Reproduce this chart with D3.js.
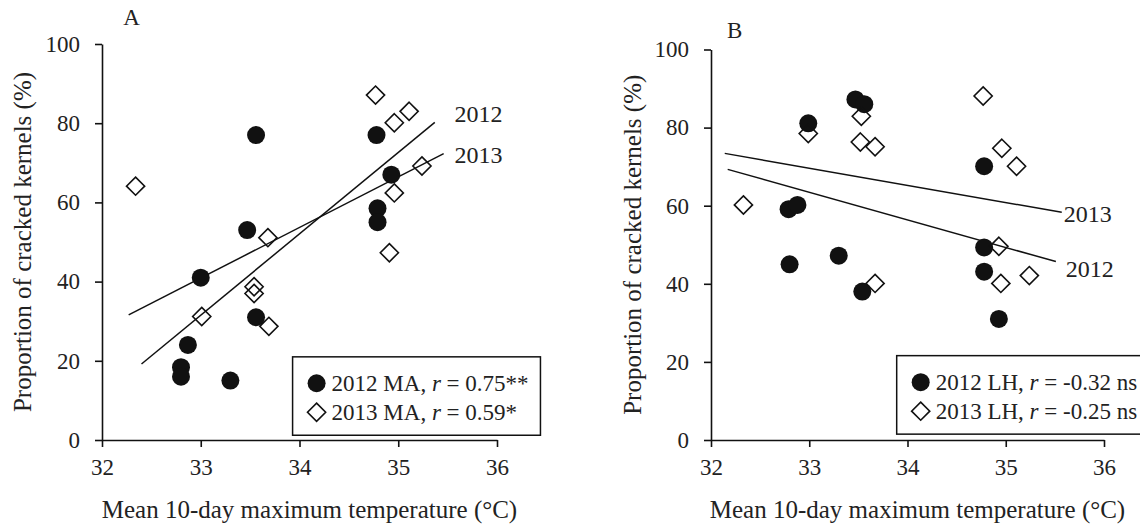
<!DOCTYPE html>
<html>
<head>
<meta charset="utf-8">
<script src="https://cdn.jsdelivr.net/npm/d3@7"></script>
<style>
  body { margin: 0; background: #fff; }
  svg text { font-family: "Liberation Serif", "Times New Roman", serif; fill: #222; }
</style>
</head>
<body>
<div id="chart"></div>
<script>
// values
const xTicks = [32, 33, 34, 35, 36]
const yTicks = [0, 20, 40, 60, 80, 100]

// panel A (MA)
const tempA2012 = [33.56, 34.78, 34.93, 34.79, 34.79, 33.47, 33.00, 33.56, 32.87, 32.80, 32.80, 33.30]
const crackA2012 = [77, 77, 67, 58.5, 55, 53, 41, 31, 24, 18.4, 16, 15]
const tempA2013 = [32.34, 34.77, 35.11, 34.96, 35.24, 34.96, 33.68, 34.91, 33.54, 33.54, 33.01, 33.69]
const crackA2013 = [64.1, 87.1, 83.0, 80.1, 69.2, 62.4, 51.1, 47.3, 38.7, 37.0, 31.2, 28.7]
const fitA2012 = [[32.40, 19.2], [35.37, 80.2]]
const fitA2013 = [[32.27, 31.6], [35.46, 72.3]]

// panel B (LH)
const tempB2012 = [33.47, 33.56, 32.99, 34.78, 32.79, 32.88, 34.78, 33.30, 32.80, 33.54, 34.78, 34.93]
const crackB2012 = [87.2, 86.0, 81.1, 70.1, 59.1, 60.2, 49.3, 47.2, 45, 38, 43.1, 31.0]
const tempB2013 = [32.33, 32.99, 33.53, 33.52, 33.67, 34.77, 34.96, 35.11, 34.93, 33.67, 34.95, 35.24]
const crackB2013 = [60.2, 78.5, 82.9, 76.3, 75.1, 88.1, 74.7, 70.1, 49.6, 40.1, 40.1, 42.1]
const fitB2012 = [[32.17, 69.3], [35.51, 45.7]]
const fitB2013 = [[32.14, 73.4], [35.57, 58.3]]

const xTitle = "Mean 10-day maximum temperature (\u00B0C)"
const yTitle = "Proportion of cracked kernels (%)"

const width = 1140, height = 524

const svg = d3.select("#chart").append("svg")
    .attr("width", width)
    .attr("height", height)
    .attr("viewBox", [0, 0, width, height])

const diamond = d3.symbol().type(d3.symbolDiamond2).size(210)

function drawPanel(p) {
    const x = d3.scaleLinear().domain([32, 36]).range([p.left, p.right])
    const y = d3.scaleLinear().domain([0, 100]).range([p.bottom, p.top])
    const g = svg.append("g")

    // axes
    g.append("g")
        .attr("transform", `translate(0,${p.bottom})`)
        .call(d3.axisBottom(x).tickValues(xTicks).tickFormat(d3.format("d"))
            .tickSize(7).tickSizeOuter(0).tickPadding(12))
    g.append("g")
        .attr("transform", `translate(${p.left},0)`)
        .call(d3.axisLeft(y).tickValues(yTicks).tickFormat(d3.format("d"))
            .tickSize(7).tickSizeOuter(0).tickPadding(15))
    g.selectAll(".tick text").attr("font-size", 23).attr("fill", "#222")
        .attr("font-family", "Liberation Serif, serif")
    g.selectAll(".domain, .tick line").attr("stroke", "#111").attr("stroke-width", 1.6)

    // fit lines
    const line = d3.line().x(d => x(d[0])).y(d => y(d[1]))
    g.append("path").attr("d", line(p.fit12)).attr("fill", "none").attr("stroke", "#111").attr("stroke-width", 1.5)
    g.append("path").attr("d", line(p.fit13)).attr("fill", "none").attr("stroke", "#111").attr("stroke-width", 1.5)

    // points
    g.selectAll(".c12").data(d3.zip(p.t12, p.v12)).join("circle")
        .attr("cx", d => x(d[0])).attr("cy", d => y(d[1])).attr("r", 9)
        .attr("fill", "#111")
    g.selectAll(".d13").data(d3.zip(p.t13, p.v13)).join("path")
        .attr("transform", d => `translate(${x(d[0])},${y(d[1])})`)
        .attr("d", diamond)
        .attr("fill", "none").attr("stroke", "#111").attr("stroke-width", 1.6)

    // line labels
    p.lineLabels.forEach(l => {
        g.append("text").attr("x", x(l.t)).attr("y", y(l.v)).attr("dy", "0.35em")
            .attr("font-size", 24).text(l.text)
    })

    // panel letter
    g.append("text").attr("x", x(p.letterT)).attr("y", p.letterY).attr("dy", "0.35em")
        .attr("text-anchor", "middle").attr("font-size", 23).text(p.letter)

    // axis titles
    g.append("text").attr("x", x(34) + 10).attr("y", 509).attr("dy", "0.35em")
        .attr("text-anchor", "middle").attr("font-size", 25).text(xTitle)
    g.append("text")
        .attr("transform", `translate(${p.ytitleX},${(p.top + p.bottom) / 2}) rotate(-90)`)
        .attr("dy", "0.35em").attr("text-anchor", "middle").attr("font-size", 25).text(yTitle)

    // legend
    const lg = g.append("g")
    lg.append("rect").attr("x", x(p.legT0)).attr("y", y(p.legV1))
        .attr("width", x(p.legT1) - x(p.legT0)).attr("height", y(p.legV0) - y(p.legV1))
        .attr("fill", "#fff").attr("stroke", "#111").attr("stroke-width", 1.5)
    const mx = x(p.legT0) + 24
    lg.append("circle").attr("cx", mx).attr("cy", y(p.legV0) - 52).attr("r", 9).attr("fill", "#111")
    lg.append("path").attr("transform", `translate(${mx},${y(p.legV0) - 23})`)
        .attr("d", diamond).attr("fill", "none").attr("stroke", "#111").attr("stroke-width", 1.6)
    p.legend.forEach((txt, i) => {
        const t = lg.append("text").attr("x", mx + 15).attr("y", y(p.legV0) - 52 + i * 29)
            .attr("dy", "0.35em").attr("font-size", 23)
        t.append("tspan").text(txt[0] + " ")
        t.append("tspan").attr("font-style", "italic").text("r")
        t.append("tspan").text(" = " + txt[1])
    })
}

drawPanel({
    left: 102, right: 497, top: 44, bottom: 440,
    t12: tempA2012, v12: crackA2012, t13: tempA2013, v13: crackA2013,
    fit12: fitA2012, fit13: fitA2013,
    lineLabels: [{t: 35.57, v: 82.3, text: "2012"}, {t: 35.57, v: 72.0, text: "2013"}],
    letter: "A", letterT: 32.30, letterY: 17,
    ytitleX: 22,
    legT0: 33.93, legT1: 36.44, legV0: 1.2, legV1: 21.0,
    legend: [["2012 MA,", "0.75**"], ["2013 MA,", "0.59*"]]
})

drawPanel({
    left: 711, right: 1104, top: 49.5, bottom: 440,
    t12: tempB2012, v12: crackB2012, t13: tempB2013, v13: crackB2013,
    fit12: fitB2012, fit13: fitB2013,
    lineLabels: [{t: 35.59, v: 58.0, text: "2013"}, {t: 35.61, v: 44.0, text: "2012"}],
    letter: "B", letterT: 32.24, letterY: 30,
    ytitleX: 632,
    legT0: 33.89, legT1: 36.5, legV0: 1.5, legV1: 21.6,
    legend: [["2012 LH,", "-0.32 ns"], ["2013 LH,", "-0.25 ns"]]
})
</script>
</body>
</html>
